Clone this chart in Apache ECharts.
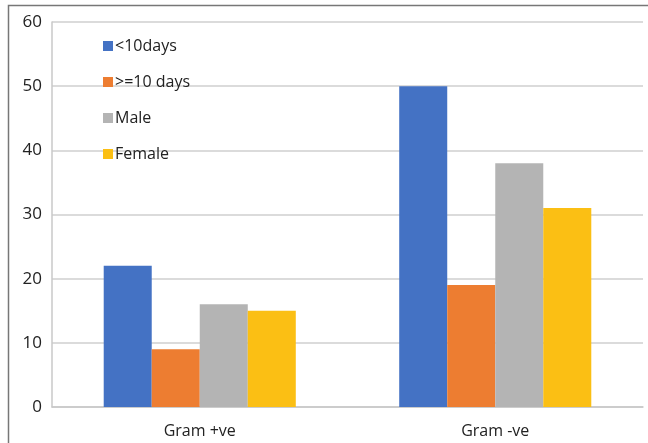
<!DOCTYPE html>
<html><head><meta charset="utf-8">
<script src="https://cdn.jsdelivr.net/npm/echarts@6/dist/echarts.min.js"></script>
<style>html,body{margin:0;padding:0;background:#fff}#c{width:648px;height:443px}</style>
</head><body><div id="c"></div>
<script>
var categories = ['Gram +ve', 'Gram -ve'];
var seriesNames = ['<10days', '>=10 days', 'Male', 'Female'];
var lessThan10Days = [22, 50];
var atLeast10Days = [9, 19];
var male = [16, 38];
var female = [15, 31];
var yTicks = [0, 10, 20, 30, 40, 50, 60];
var colors = ['#4472C4', '#ED7D31', '#B4B4B4', '#FBBF14'];
var values = [lessThan10Days, atLeast10Days, male, female];

var chart = echarts.init(document.getElementById('c'));
chart.setOption({
  animation: false,
  color: colors,
  textStyle: {fontFamily: 'Open Sans'},
  graphic: [{type: 'polyline', shape: {points: [[8.5, 443], [8.5, 5.5], [648, 5.5]]}, style: {stroke: '#777', lineWidth: 1.5, fill: null}}],
  grid: {left: 52, right: 5, top: 22, bottom: 36, containLabel: false},
  legend: {
    orient: 'vertical', left: 98, top: 32, itemGap: 18, itemWidth: 10, itemHeight: 10,
    icon: 'rect', data: seriesNames,
    textStyle: {fontSize: 16, color: '#222', padding: [0, 0, 0, -3], lineHeight: 18}
  },
  xAxis: {
    type: 'category', data: categories,
    axisLine: {lineStyle: {color: '#c8c8c8', width: 1.5}},
    axisTick: {show: false},
    axisLabel: {fontSize: 16, color: '#222', margin: 16}
  },
  yAxis: {
    type: 'value', min: yTicks[0], max: yTicks[yTicks.length - 1], interval: 10,
    axisLine: {show: true, lineStyle: {color: '#c8c8c8', width: 1.5}},
    axisTick: {show: false},
    axisLabel: {fontSize: 17, color: '#222', margin: 10},
    splitLine: {lineStyle: {color: '#cfcfcf', width: 1.5}}
  },
  series: seriesNames.map(function (n, i) {
    return {name: n, type: 'bar', data: values[i], barGap: '0%', barCategoryGap: '35%'};
  })
});
</script></body></html>
